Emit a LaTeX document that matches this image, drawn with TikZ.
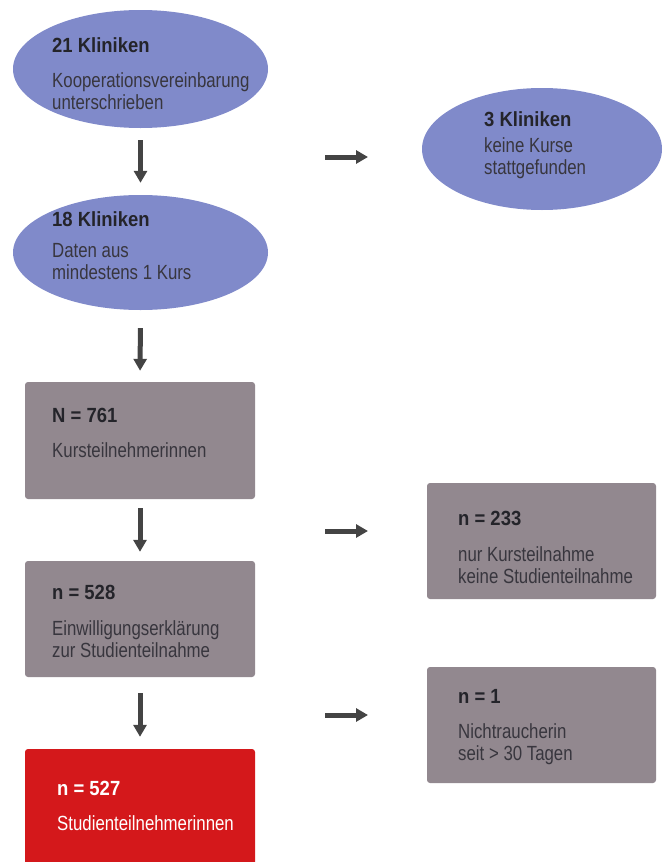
\documentclass[tikz,border=0pt]{standalone}
\usepackage{fontspec}
\setmainfont[FakeStretch=0.82, BoldFeatures={FakeStretch=0.9}]{Liberation Sans}
\usetikzlibrary{positioning}
\usetikzlibrary{arrows.meta}
\usetikzlibrary{shapes.geometric}

\definecolor{klinikblue}{RGB}{128,138,202}
\definecolor{boxgray}{RGB}{146,136,143}
\definecolor{boxred}{RGB}{212,24,27}
\definecolor{titeldark}{RGB}{36,36,42}
\definecolor{textdark}{RGB}{56,54,62}
\definecolor{pfeilgray}{RGB}{68,68,68}

\tikzset{
  klinik/.style={ellipse, fill=klinikblue, inner sep=0pt, minimum width=255pt, minimum height=118pt},
  gruppe/.style={rectangle, rounded corners=3pt, fill=boxgray, inner sep=0pt, minimum width=230pt, minimum height=116pt},
  titel/.style={anchor=base west, inner sep=0pt, text=titeldark, font=\fontsize{20.5}{22}\selectfont\bfseries},
  inhalt/.style={anchor=north west, inner sep=0pt, align=left, text=textdark, font=\fontsize{20.5}{21.5}\selectfont},
  pfeil/.style={line width=5pt, draw=pfeilgray, -{Triangle[length=12pt,width=13pt]}},
}

\begin{document}
\begin{tikzpicture}[x=1pt,y=-1pt]
      \useasboundingbox (0,0) rectangle (662,862);
      % linke Spalte
      \node[klinik] (e21) at (140.5,69) {};
      \node[klinik, minimum height=115pt] (e18) at (140.5,252.5) {};
      \node[gruppe, minimum height=117pt] (n761) at (140,440.5) {};
      \node[gruppe] (n528) at (140,619) {};
      \node[gruppe, fill=boxred, minimum height=122pt] (n527) at (140,810) {};
      % rechte Spalte
      \node[klinik, minimum width=240pt, minimum height=122pt] (e3) at (542,149) {};
      \node[gruppe, minimum width=229pt] (n233) at (541.5,541) {};
      \node[gruppe, minimum width=229pt] (n1) at (541.5,725) {};

      \node[titel] (t21) at (52,52) {21 Kliniken};
      \node[inhalt] (b21) at (52,72.5) {Kooperationsvereinbarung\\unterschrieben};
      \node[titel] (t18) at (52,226) {18 Kliniken};
      \node[inhalt] (b18) at (52,243.5) {Daten aus\\mindestens 1 Kurs};
      \node[titel] (t3) at (484,126) {3 Kliniken};
      \node[inhalt] (b3) at (484,137.5) {keine Kurse\\stattgefunden};

      \node[titel] (t761) at (52,422) {N = 761};
      \node[inhalt] (b761) at (52,442.5) {Kursteilnehmerinnen};
      \node[titel] (t528) at (52,599) {n = 528};
      \node[inhalt] (b528) at (52,620.5) {Einwilligungserklärung\\zur Studienteilnahme};
      \node[titel, text=white] (t527) at (57,795) {n = 527};
      \node[inhalt, text=white] (b527) at (57,815.5) {Studienteilnehmerinnen};
      \node[titel] (t233) at (458,525) {n = 233};
      \node[inhalt] (b233) at (458,546.5) {nur Kursteilnahme\\keine Studienteilnahme};
      \node[titel] (t1) at (458,703) {n = 1};
      \node[inhalt] (b1) at (458,723.5) {Nichtraucherin\\seit > 30 Tagen};

      % Pfeile
      \draw[pfeil, shorten <=12pt, shorten >=12pt] (e21.south) -- (e18.north);
      \draw[pfeil, shorten <=18pt, shorten >=11pt] (e18.south) -- (n761.north);
      \draw[pfeil, shorten <=9pt, shorten >=9pt] (n761.south) -- (n528.north);
      \draw[pfeil, shorten <=16pt, shorten >=12pt] (n528.south) -- (n527.north);

      \coordinate (r3a) at (325,157);
      \coordinate (r3b) at (368,157);
      \coordinate (r233a) at (325,531);
      \coordinate (r233b) at (368,531);
      \coordinate (r1a) at (325,715);
      \coordinate (r1b) at (368,715);
      \draw[pfeil] (r3a) -- (r3b);
      \draw[pfeil] (r233a) -- (r233b);
      \draw[pfeil] (r1a) -- (r1b);
    \end{tikzpicture}
\end{document}
